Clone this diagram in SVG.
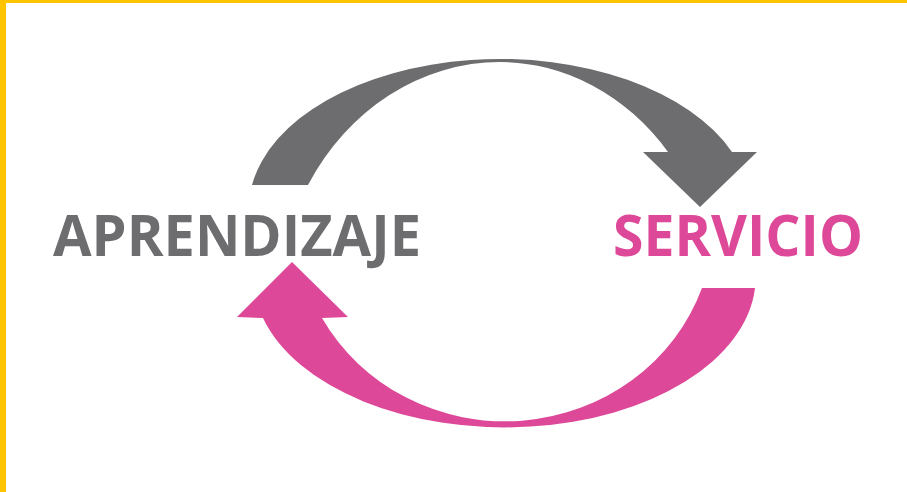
<svg xmlns="http://www.w3.org/2000/svg" width="907" height="492" viewBox="0 0 907 492">
  <style>
    .lbl { font-family: "Open Sans", "Liberation Sans", sans-serif; font-weight: 700; font-size: 58px; }
    .gray { fill: #6d6d70; }
    .pink { fill: #dd4898; }
  </style>
  <rect x="0" y="0" width="907" height="492" fill="#ffffff"/>
  <rect x="0" y="0" width="907" height="3" fill="#ffc400"/>
  <rect x="0" y="0" width="6" height="492" fill="#ffc400"/>
  <g id="connectors">
    <path id="arrow-top" class="gray" d="M252,185 A251,150 0 0 1 732,152 L757,152 L700,207 L643,152 L668,152 A219,250 0 0 0 500,62 A223,250 0 0 0 308,185 Z"/>
    <path id="arrow-bottom" class="pink" d="M755,288 A251,150 0 0 1 263,318 L237,317 L292,262 L348,317 L322,318 A209,200 0 0 0 702,288 Z"/>
  </g>
  <g id="aprendizaje">
    <text class="lbl gray" x="53" y="256" textLength="368" lengthAdjust="spacingAndGlyphs">APRENDIZAJE</text>
  </g>
  <g id="servicio">
    <text class="lbl pink" x="613" y="256" textLength="250" lengthAdjust="spacingAndGlyphs">SERVICIO</text>
  </g>
</svg>
